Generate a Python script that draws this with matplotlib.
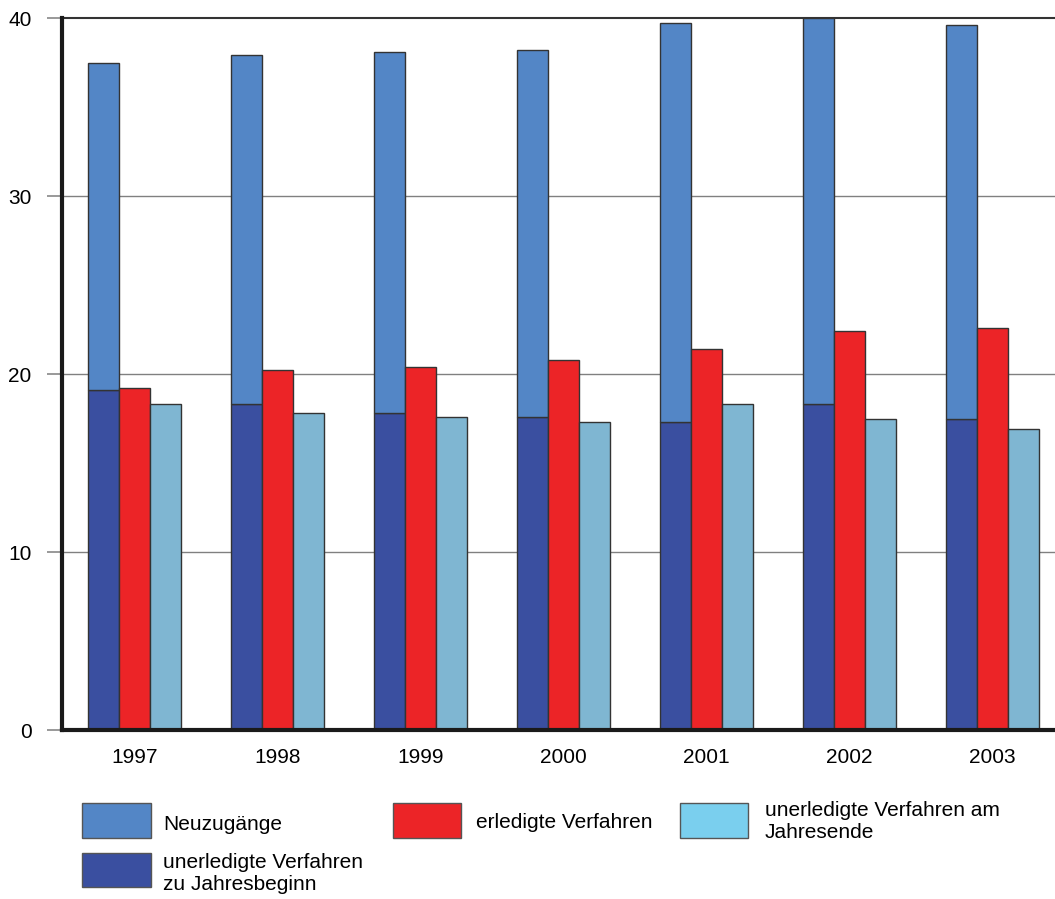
import matplotlib
matplotlib.use("Agg")
import matplotlib.pyplot as plt
import numpy as np
from matplotlib.patches import Rectangle

plt.rcParams['font.family'] = ['Liberation Sans', 'DejaVu Sans']

years = ['1997', '1998', '1999', '2000', '2001', '2002', '2003']
offen_beginn = [19.1, 18.3, 17.8, 17.6, 17.3, 18.3, 17.5]
neuzugaenge = [18.4, 19.6, 20.3, 20.6, 22.4, 21.7, 22.1]
erledigt = [19.2, 20.2, 20.4, 20.8, 21.4, 22.4, 22.6]
offen_ende = [18.3, 17.8, 17.6, 17.3, 18.3, 17.5, 16.9]
yticks = [0, 10, 20, 30, 40]

c_neu = '#5386C6'
c_beginn = '#3A4FA0'
c_erl = '#EC2427'
c_ende = '#7FB6D2'
c_ende_leg = '#7ACFEE'
edge = '#333333'
fs = 15

fig = plt.figure(figsize=(10.55, 8.99), dpi=100)
ax = fig.add_axes([62 / 1055, 1 - 730 / 899, 1 - 62 / 1055, (730 - 18) / 899])

x = np.arange(len(years))
w = 0.217
kw = dict(width=w, edgecolor=edge, linewidth=1.0, zorder=3)
ax.bar(x - w, offen_beginn, color=c_beginn, **kw)
ax.bar(x - w, neuzugaenge, bottom=offen_beginn, color=c_neu, **kw)
ax.bar(x, erledigt, color=c_erl, **kw)
ax.bar(x + w, offen_ende, color=c_ende, **kw)

ax.set_xlim(-0.507, len(years) - 1 + 0.437)
ax.set_ylim(0, 40)
ax.set_yticks(yticks)
ax.set_yticklabels([str(t) for t in yticks], fontsize=fs)
ax.set_xticks(x)
ax.set_xticklabels(years, fontsize=fs)
ax.tick_params(axis='x', length=0, pad=13)
ax.tick_params(axis='y', length=11, color='#888888', width=1.2, pad=11)

for t in yticks[1:-1]:
    ax.axhline(t, color='#808080', linewidth=1.0, zorder=1)
ax.axhline(40, color='#333333', linewidth=1.5, zorder=1, clip_on=False)

for s in ['top', 'right']:
    ax.spines[s].set_visible(False)
for s in ['left', 'bottom']:
    ax.spines[s].set_linewidth(3)
    ax.spines[s].set_color('#1a1a1a')
    ax.spines[s].set_zorder(5)

# legend drawn in figure pixel coordinates
H = 899
W = 1055
def swatch(x0, y0, x1, y1, color):
    fig.patches.append(Rectangle((x0 / W, 1 - y1 / H), (x1 - x0) / W, (y1 - y0) / H,
                                 transform=fig.transFigure, facecolor=color,
                                 edgecolor='#555555', linewidth=1.0))

def label(xp, yp, s):
    fig.text(xp / W, 1 - yp / H, s, fontsize=fs, va='center', ha='left',
             linespacing=1.2)

swatch(82, 803, 151, 838, c_neu)
label(163, 824, 'Neuzugänge')
swatch(82, 853, 151, 887, c_beginn)
label(163, 873, 'unerledigte Verfahren\nzu Jahresbeginn')
swatch(393, 803, 461, 838, c_erl)
label(476, 823, 'erledigte Verfahren')
swatch(680, 803, 748, 838, c_ende_leg)
label(765, 822, 'unerledigte Verfahren am\nJahresende')

fig.savefig('out.png', dpi=100)
